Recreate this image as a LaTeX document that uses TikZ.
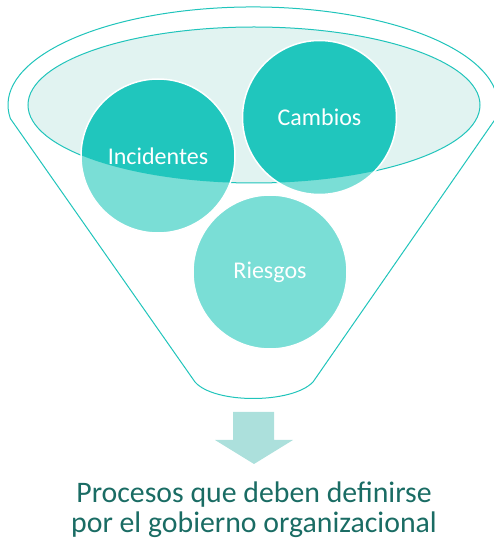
\documentclass[tikz,border=0pt]{standalone}
\usepackage{fontspec}
\setmainfont{Carlito}
\usepackage{tikz}
\usetikzlibrary{shapes,positioning}
\definecolor{funnelline}{RGB}{32,196,187}
\definecolor{bubbledark}{RGB}{32,198,189}
\definecolor{bubblelight}{RGB}{122,222,214}
\definecolor{mouthfill}{RGB}{225,243,241}
\definecolor{arrowfill}{RGB}{172,224,220}
\definecolor{captiontext}{RGB}{26,108,100}
\tikzstyle{funnel} = [draw=funnelline, line width=1pt]
\tikzstyle{mouth} = [ellipse, draw=funnelline, line width=1pt, fill=mouthfill,
inner sep=0pt, minimum width=452pt, minimum height=156pt]
\tikzstyle{bubble} = [circle, draw=white, line width=1.5pt, fill=bubblelight,
inner sep=0pt, minimum size=154pt, text=white, font=\fontsize{24}{28}\selectfont,
path picture={\fill[bubbledark] (rim.center) ellipse [x radius=226pt, y radius=78pt];}]
\tikzstyle{caption} = [text=captiontext, align=center, font=\fontsize{29.8}{30.5}\selectfont]

\begin{document}
\begin{tikzpicture}[x=1pt, y=1pt]
\useasboundingbox (0,0) rectangle (493,541);

\draw[funnel] (10.4,422.4) arc [start angle=188, end angle=-8, x radius=245, y radius=98]
  -- (313,159) .. controls (292,137) and (214,137) .. (195,159) -- cycle;

\node[mouth] (rim) at (254,436) {};

\node[bubble] (incidentes) at ([shift={(-96,-51)}]rim.center) {Incidentes};
\node[bubble] (cambios) at ([shift={(65.5,-12.5)}]rim.center) {Cambios};
\node[bubble] (riesgos) at ([shift={(16,-167)}]rim.center) {Riesgos};

\coordinate (tip) at (254,77);
\fill[arrowfill] (tip) -- ++(39,24) -- ++(-19,0) -- ++(0,28) -- ++(-41,0)
  -- ++(0,-28) -- ++(-18,0) -- cycle;

\node[caption, below=14pt of tip] (procesos) {Procesos que deben definirse\\por el gobierno organizacional};

\end{tikzpicture}
\end{document}
